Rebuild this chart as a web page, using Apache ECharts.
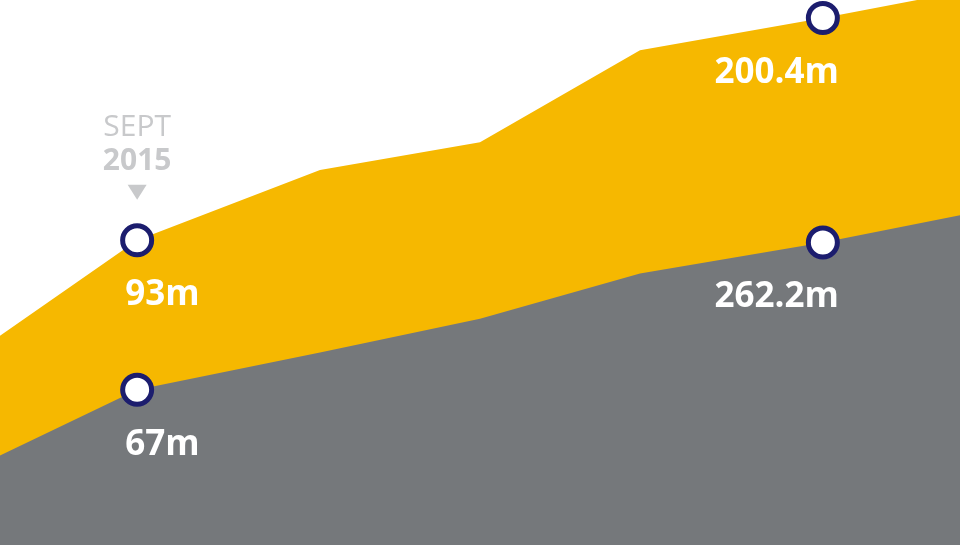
<!DOCTYPE html>
<html>
<head>
<meta charset="utf-8">
<script src="https://cdn.jsdelivr.net/npm/echarts@6/dist/echarts.min.js"></script>
<style>
  html, body { margin: 0; padding: 0; background: #ffffff; }
  #chart { width: 960px; height: 548px; }
</style>
</head>
<body>
<div id="chart"></div>
<script>
// months since start (x position of each point)
var months = [0, 6, 14, 21, 28, 36, 42];
// bottom (grey) layer and top (yellow) layer; yellow sits on grey
var greyValues = [16.4, 28.5, 35.3, 41.5, 49.8, 55.5, 60.5];
var yellowValues = [22.0, 27.4, 33.5, 32.4, 41.0, 41.2, 41.0];
// which points carry a marker, and their labels
var markerIndex = [1, 5];
var greyLabels = ['67m', '262.2m'];
var yellowLabels = ['93m', '200.4m'];
var markerTitle = ['SEPT', '2015'];

// running total for the upper layer
var yellowTop = yellowValues.map(function (v, i) { return +(v + greyValues[i]).toFixed(1); });

var labelFont = { color: '#ffffff', fontFamily: 'Open Sans', fontWeight: 'bold', fontSize: 35, letterSpacing: 1.5 };

function buildData(values, labels) {
  return months.map(function (m, i) {
    var item = { value: [m, values[i]] };
    var k = markerIndex.indexOf(i);
    if (k >= 0) {
      var left = k === 0;
      item.symbol = 'circle';
      item.symbolSize = 29;
      item.label = Object.assign({
        show: true,
        position: 'inside',
        align: left ? 'left' : 'right',
        verticalAlign: 'middle',
        offset: left ? [-12, 55] : [16, 55],
        formatter: labels[k]
      }, labelFont);
    }
    return item;
  });
}

var chart = echarts.init(document.getElementById('chart'));
var option = {
  backgroundColor: '#ffffff',
  animation: false,
  grid: { left: 0, right: 0, top: 0, bottom: 3 },
  xAxis: { type: 'value', min: 0, max: 42, show: false },
  yAxis: { type: 'value', min: 0, max: 100, show: false },
  series: [
    {
      name: 'yellow',
      type: 'line',
      z: 2,
      symbol: 'none',
      showSymbol: true,
      lineStyle: { width: 0 },
      areaStyle: { color: '#f6b800', opacity: 1 },
      itemStyle: { color: '#ffffff', borderColor: '#1c1d6e', borderWidth: 5 },
      data: buildData(yellowTop, yellowLabels),
      markPoint: {
        silent: true,
        data: [{
          coord: [months[markerIndex[0]], yellowTop[markerIndex[0]]],
          symbol: 'triangle',
          symbolRotate: 180,
          symbolSize: [19, 15],
          symbolOffset: [0, -48],
          itemStyle: { color: '#c8c9cb', borderWidth: 0 },
          label: {
            show: true,
            position: 'top',
            distance: 6,
            formatter: '{a|' + markerTitle[0] + '}\n{b|' + markerTitle[1] + '}',
            rich: {
              a: { color: '#c8c9cb', fontFamily: 'Open Sans', fontSize: 30, lineHeight: 34 },
              b: { color: '#c8c9cb', fontFamily: 'Open Sans', fontWeight: 'bold', fontSize: 30, lineHeight: 34 }
            }
          }
        }]
      }
    },
    {
      name: 'grey',
      type: 'line',
      z: 3,
      symbol: 'none',
      showSymbol: true,
      lineStyle: { width: 0 },
      areaStyle: { color: '#75787b', opacity: 1 },
      itemStyle: { color: '#ffffff', borderColor: '#1c1d6e', borderWidth: 5 },
      data: buildData(greyValues, greyLabels)
    }
  ]
};
chart.setOption(option);
window.addEventListener('resize', function () {
  chart.resize();
});
</script>
</body>
</html>
